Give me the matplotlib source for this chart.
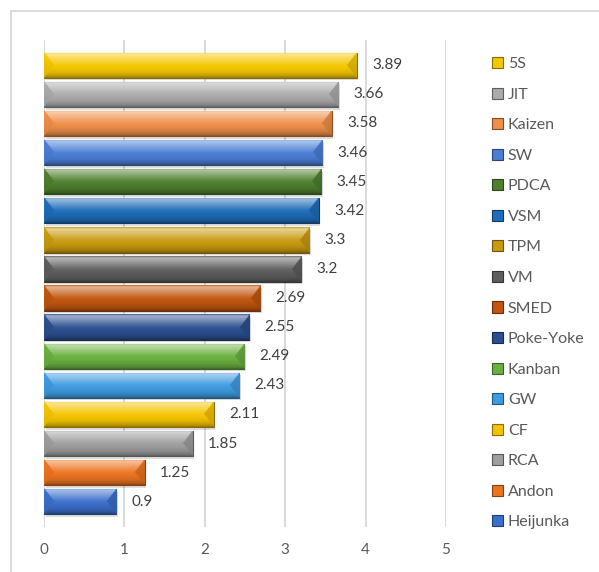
import matplotlib
matplotlib.use('Agg')
import matplotlib.pyplot as plt
import numpy as np
from matplotlib.colors import to_rgb
from matplotlib.patches import Patch, Rectangle
from matplotlib.lines import Line2D

# Tools and average scores, listed top to bottom
tools = ['5S', 'JIT', 'Kaizen', 'SW', 'PDCA', 'VSM', 'TPM', 'VM', 'SMED',
         'Poke-Yoke', 'Kanban', 'GW', 'CF', 'RCA', 'Andon', 'Heijunka']
scores = [3.89, 3.66, 3.58, 3.46, 3.45, 3.42, 3.3, 3.2, 2.69,
          2.55, 2.49, 2.43, 2.11, 1.85, 1.25, 0.9]
colors = ['#F5C700', '#ABABAB', '#EE8E48', '#4C7ED6', '#4E7F2E', '#1F6CB8',
          '#C89A10', '#5E5E5E', '#C0560F', '#2B4F8F', '#6AB040', '#3E9BE0',
          '#F5C400', '#9E9E9E', '#EC7420', '#3A6FCB']
x_ticks = [0, 1, 2, 3, 4, 5]

FONT = 'Lato'
TEXT = '#404040'
GRID = '#D9D9D9'
DPI = 100

plt.rcParams['font.family'] = [FONT, 'DejaVu Sans']

fig = plt.figure(figsize=(5.99, 5.72), dpi=DPI)
W, H = 599, 572
ax = fig.add_axes([44 / W, 1 - 527 / H, (446 - 44) / W, (527 - 40) / H])

# outer chart frame (cut at right and bottom)
fig.add_artist(Line2D([10.5 / W, 10.5 / W, 1.0], [0.0, 1 - 10.5 / H, 1 - 10.5 / H],
                      transform=fig.transFigure, color=GRID, lw=1.3))

n = len(tools)
ypos = np.arange(n)[::-1]
bar_h = 0.87


def mix(c, s):
    c = np.asarray(c)
    if s >= 0:
        return c + (1 - c) * s
    return c * (1 + s)


def bevel_image(base, w_px, h_px, bevel_px):
    base = np.array(to_rgb(base))
    rows = np.arange(h_px)[:, None] * np.ones((1, w_px))
    cols = np.ones((h_px, 1)) * np.arange(w_px)[None, :]
    t = rows / max(h_px - 1, 1)
    prof = np.interp(t, [0, 0.06, 0.2, 0.5, 0.8, 0.94, 1.0],
                     [0.1, 0.55, 0.4, 0.05, -0.1, -0.25, -0.4])
    dv = np.minimum(rows, h_px - 1 - rows) * (bevel_px / (h_px / 2))
    dl = cols
    dr = w_px - 1 - cols
    shade = prof.copy()
    left = (dl < dv) & (dl <= dr)
    right = (dr < dv) & (dr < dl)
    shade[left] = -0.03 + 0.12 * (0.5 - t[left])
    shade[right] = -0.13 + 0.1 * (0.5 - t[right])
    img = np.empty((h_px, w_px, 3))
    pos = shade >= 0
    img[pos] = base + (1 - base) * shade[pos][:, None]
    img[~pos] = base * (1 + shade[~pos][:, None])
    return np.clip(img, 0, 1)


ax.set_xlim(0, 5)
ax.set_ylim(-0.87, n - 1 + 0.87)

bars = ax.barh(ypos, scores, height=bar_h, color=colors,
               edgecolor=[mix(to_rgb(c), -0.45) for c in colors], lw=0.8, zorder=3)

px_per_x = (446 - 44) / 5
px_per_y = (527 - 40) / (n - 1 + 1.74)
for b, c in zip(bars, colors):
    x0, y0, bw, bh = b.get_x(), b.get_y(), b.get_width(), b.get_height()
    # soft shadow under each bar
    ax.add_patch(Rectangle((x0 + 1.5 / px_per_x, y0 - 2.5 / px_per_y), bw, bh,
                           color='black', alpha=0.13, lw=0, zorder=2.5))
    w_px = max(int(round(bw * px_per_x)) * 2, 4)
    h_px = int(round(bh * px_per_y)) * 2
    im = ax.imshow(bevel_image(c, w_px, h_px, 20), extent=[x0, x0 + bw, y0, y0 + bh],
                   aspect='auto', interpolation='bilinear', zorder=3.2)
    im.set_clip_path(b)

for y, v in zip(ypos, scores):
    ax.annotate(f'{v:g}', xy=(v, y), xytext=(11, 0), textcoords='offset points',
                va='center', ha='left', fontsize=11, color=TEXT)

ax.set_xlim(0, 5)
ax.set_ylim(-0.87, n - 1 + 0.87)
ax.set_xticks(x_ticks)
ax.set_yticks([])
ax.grid(axis='x', color=GRID, lw=1.4)
ax.set_axisbelow(True)
for s in ax.spines.values():
    s.set_visible(False)
ax.tick_params(axis='x', length=0, pad=11.5, labelsize=11, labelcolor='#595959')

handles = [Patch(facecolor=c, edgecolor=mix(to_rgb(c), -0.45), lw=0.8) for c in colors]
fig.legend(handles, tools, loc='upper left', bbox_to_anchor=(492 / W, 1 - 57 / H),
           frameon=False, fontsize=11.5, labelcolor='#595959',
           handlelength=0.7, handleheight=0.7, handletextpad=0.3,
           labelspacing=1.025, borderpad=0, borderaxespad=0)

fig.savefig('out.png', dpi=DPI, facecolor='white')
